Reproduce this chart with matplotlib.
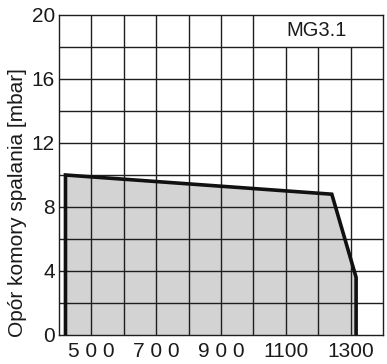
import matplotlib
matplotlib.use("Agg")
import matplotlib.pyplot as plt

# Data
area_x = [420, 420, 1242, 1317, 1317]
area_y = [0, 10, 8.8, 3.6, 0]
x_ticks = [500, 700, 900, 1100, 1300]
x_labels = ['5 0 0', '7 0 0', '9 0 0', '1100', '1300']
y_ticks = [0, 4, 8, 12, 16, 20]
grid_x = [500, 600, 700, 800, 900, 1000, 1100, 1200, 1300]
grid_x_top = [20, 20, 20, 20, 20, 20, 18, 18, 18]
grid_y = [2, 4, 6, 8, 10, 12, 14, 16, 18]
model = 'MG3.1'

plt.rcParams['font.family'] = ['Liberation Sans', 'DejaVu Sans']

fig = plt.figure(figsize=(3.87, 3.64), dpi=100)
ax = fig.add_axes([59 / 387, (364 - 335) / 364, (383 - 59) / 387, (335 - 15) / 364])

ax.fill(area_x, area_y, color='#d3d3d3', zorder=1, lw=0)

lc = '#1e1e1e'
ax.vlines(grid_x, 0, grid_x_top, color=lc, lw=1.0, zorder=2)
ax.hlines(grid_y, 400, 1400, color=lc, lw=1.0, zorder=2)

ax.plot(area_x, area_y, color='#111111', lw=2.6, zorder=3, solid_joinstyle='miter')

ax.text(1196, 19, model, ha='center', va='center', fontsize=14.5, color='#1a1a1a')

ax.set_xlim(400, 1400)
ax.set_ylim(0, 20)
ax.set_xticks(x_ticks)
ax.set_xticklabels(x_labels)
ax.set_yticks(y_ticks)
ax.tick_params(length=0, labelsize=15, colors='#1a1a1a')
ax.tick_params(axis='y', pad=3)
ax.tick_params(axis='x', pad=5)
for s in ax.spines.values():
    s.set_color(lc)
    s.set_linewidth(1.0)
ax.set_ylabel('Opór komory spalania [mbar]', fontsize=15, color='#1a1a1a')
ax.yaxis.set_label_coords(-0.098, 0.415)

fig.savefig('out.png', dpi=100)
